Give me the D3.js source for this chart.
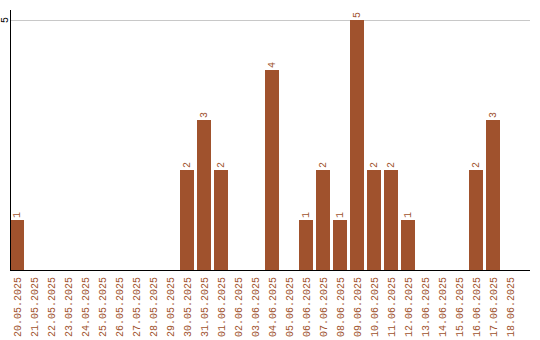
<!DOCTYPE html>
<html><head><meta charset="utf-8">
<script src="https://cdn.jsdelivr.net/npm/d3@7"></script>
<style>body{margin:0;background:#fff}svg{display:block}text{font-family:"Liberation Mono",monospace;font-size:10px}</style>
</head><body>
<script>
const categories = ["20.05.2025","21.05.2025","22.05.2025","23.05.2025","24.05.2025","25.05.2025","26.05.2025","27.05.2025","28.05.2025","29.05.2025","30.05.2025","31.05.2025","01.06.2025","02.06.2025","03.06.2025","04.06.2025","05.06.2025","06.06.2025","07.06.2025","08.06.2025","09.06.2025","10.06.2025","11.06.2025","12.06.2025","13.06.2025","14.06.2025","15.06.2025","16.06.2025","17.06.2025","18.06.2025"];
const values = [1,0,0,0,0,0,0,0,0,0,2,3,2,0,0,4,0,1,2,1,5,2,2,1,0,0,0,2,3,0];
const yTicks = [5];

const W = 540, H = 340;
const color = "#a0522d";
const svg = d3.select("body").append("svg").attr("width", W).attr("height", H);

const x = d3.scaleBand().domain(categories).range([10, 517]).paddingInner(3/17).paddingOuter(0).align(0);
const y = d3.scaleLinear().domain([0, 5]).range([270, 20]);

// gridlines
svg.append("g").selectAll("line").data(yTicks).join("line")
  .attr("x1", 10).attr("x2", 530)
  .attr("y1", d => y(d) + 0.5).attr("y2", d => y(d) + 0.5)
  .attr("stroke", "#c8c8c8").attr("stroke-width", 1);

// bars
svg.append("g").selectAll("rect").data(categories.map((c, i) => ({c, v: values[i]}))).join("rect")
  .attr("x", d => Math.round(x(d.c))).attr("width", Math.round(x.bandwidth()))
  .attr("y", d => y(d.v)).attr("height", d => y(0) - y(d.v))
  .attr("fill", color);

// value labels
svg.append("g").selectAll("text").data(categories.map((c, i) => ({c, v: values[i]})).filter(d => d.v > 0)).join("text")
  .attr("transform", d => `translate(${Math.round(x(d.c)) + 10},${y(d.v) - 2}) rotate(-90)`)
  .attr("fill", color).attr("text-anchor", "start")
  .text(d => d.v);

// y axis
svg.append("line").attr("x1", 10.5).attr("x2", 10.5).attr("y1", 10).attr("y2", 270).attr("stroke", "#000");
svg.append("g").selectAll("text").data(yTicks).join("text")
  .attr("transform", d => `translate(8,${y(d)}) rotate(-90)`)
  .attr("text-anchor", "middle")
  .attr("fill", "#000")
  .text(d => d);

// x axis
const xAxis = d3.axisBottom(x).tickSize(0).tickPadding(0);
const gx = svg.append("g").attr("transform", "translate(0,270)").call(xAxis);
gx.select(".domain").remove();
gx.attr("font-family", null).attr("font-size", null);
gx.selectAll("text")
  .attr("fill", color)
  .attr("text-anchor", "end")
  .attr("dy", null).attr("y", 0)
  .attr("transform", "translate(3.5,7) rotate(-90)");
svg.append("line").attr("x1", 10).attr("x2", 530).attr("y1", 270.5).attr("y2", 270.5).attr("stroke", "#000");
</script>
</body></html>
